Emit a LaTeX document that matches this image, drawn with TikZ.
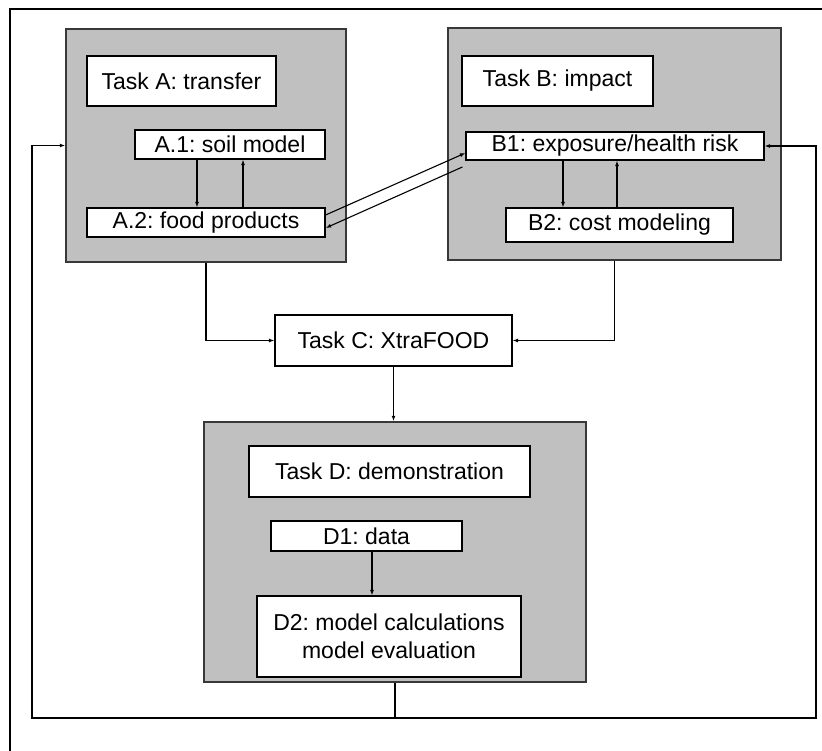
\documentclass[tikz,border=0pt]{standalone}
\usepackage{fontspec}
\setmainfont{Liberation Sans}
\usetikzlibrary{arrows.meta,positioning,calc}
\definecolor{panel}{HTML}{C0C0C0}
\definecolor{rim}{HTML}{383838}
\tikzset{
	grp/.style={draw=rim,fill=panel,line width=1.5pt,inner sep=0pt},
	task/.style={draw,fill=white,line width=1.2pt,inner sep=0pt,align=center,font=\fontsize{23}{28}\selectfont},
	arr/.style={-{Latex[length=5.5pt,width=4pt]},line width=1.1pt},
	ln/.style={line width=1.1pt}
}
\frenchspacing
\begin{document}
\begin{tikzpicture}[x=1pt,y=-1pt]
		\useasboundingbox (0,0) rectangle (822,751);
		\draw[line width=1.2pt] (830,9) -- (10,9) -- (10,760);
		% task A
		\node[grp,minimum width=280pt,minimum height=233pt] (grpA) at (206,145.5) {};
		\node[task,minimum width=189pt,minimum height=50pt] (tA) at (181.5,81) {Task A: transfer};
		\node[task,minimum width=190pt,minimum height=29pt] (a1) at (230,144.5) {A.1: soil model};
		\node[task,minimum width=238pt,minimum height=29pt] (a2) at (206,222.5) {A.2: food products};
		% task B
		\node[grp,minimum width=333pt,minimum height=232pt] (grpB) at (614.5,144) {};
		\node[task,minimum width=191pt,minimum height=50pt] (tB) at (557.5,81) {Task B: impact};
		\node[task,minimum width=298pt,minimum height=28pt] (b1) at (615,146) {B1: exposure/health risk};
		\node[task,minimum width=227pt,minimum height=34pt] (b2) at (619.5,225) {B2: cost modeling};
		% task C
		\node[task,minimum width=237pt,minimum height=51pt] (tC) at (393.5,340.5) {Task C: XtraFOOD};
		% task D
		\node[grp,minimum width=382pt,minimum height=260pt] (grpD) at (395,552) {};
		\node[task,minimum width=281pt,minimum height=51pt] (tD) at (389.5,471.5) {Task D: demonstration};
		\node[task,minimum width=191pt,minimum height=30pt] (d1) at (366.5,536) {D1: data};
		\node[task,minimum width=264pt,minimum height=81pt] (d2) at (389,636.5) {D2: model calculations\\model evaluation};
		% inside the panels
		\draw[arr] ([xshift=-33pt]a1.south) -- ([xshift=-33pt]a1.south |- a2.north);
		\draw[arr] ([xshift=13pt]a1.south |- a2.north) -- ([xshift=13pt]a1.south);
		\draw[arr] ([xshift=-52pt]b1.south) -- ([xshift=-52pt]b1.south |- b2.north);
		\draw[arr] ([xshift=2pt]b1.south |- b2.north) -- ([xshift=2pt]b1.south);
		\draw[arr] (d1.south -| 372,0) -- (d2.north -| 372,0);
		% between A and B
		\draw[arr] ([yshift=7.5pt]a2.east) -- ([yshift=-7pt]b1.west);
		\draw[arr] ([xshift=-3pt,yshift=-21pt]b1.west) -- ([yshift=-5.5pt]a2.east);
		% to C and D
		\draw[arr] (grpA.south) |- (tC.west);
		\draw[arr] (grpB.south) |- (tC.east);
		\draw[arr] (tC.south) -- (tC.south |- grpD.north);
		% feedback
		\coordinate (fbM) at (grpD.south |- 0,718);
		\coordinate (fbL) at (32,718);
		\coordinate (fbR) at (816,718);
		\draw[ln] (grpD.south) -- (fbM);
		\draw[arr] (fbM) -- (fbL) |- (grpA.west);
		\draw[arr] (fbM) -- (fbR) |- (b1.east);
	\end{tikzpicture}
\end{document}
